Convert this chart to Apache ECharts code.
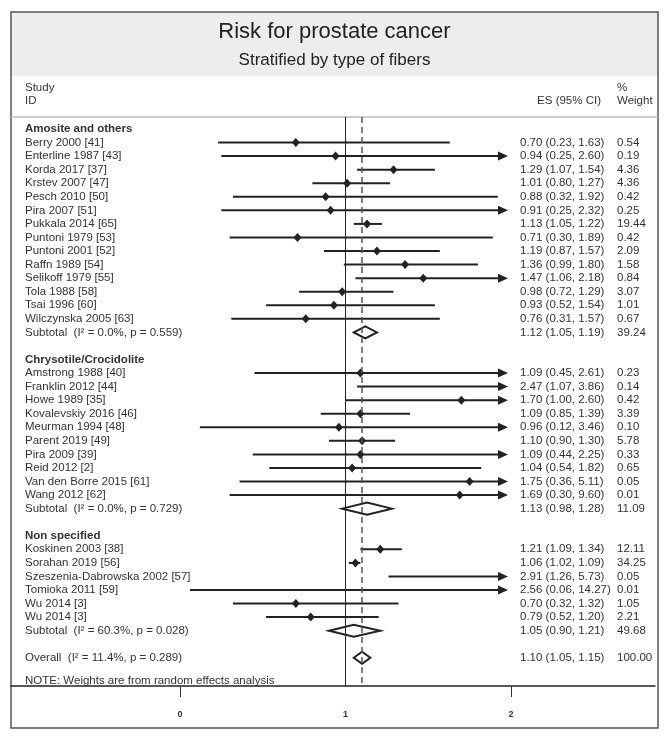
<!DOCTYPE html>
<html>
<head>
<meta charset="UTF-8">
<title>Risk for prostate cancer</title>
<style>
    body { margin: 0; background: #fff; }
    #main { width: 671px; height: 741px; }
</style>
<script src="https://cdn.jsdelivr.net/npm/echarts@6/dist/echarts.min.js"></script>
</head>
<body>
<div id="main"></div>
<script type="text/javascript">
    // groups of studies
    var groupNames = ['Amosite and others', 'Chrysotile/Crocidolite', 'Non specified'];

    var studyNames = [
        'Berry 2000 [41]', 'Enterline 1987 [43]', 'Korda 2017 [37]', 'Krstev 2007 [47]', 'Pesch 2010 [50]',
        'Pira 2007 [51]', 'Pukkala 2014 [65]', 'Puntoni 1979 [53]', 'Puntoni 2001 [52]', 'Raffn 1989 [54]',
        'Selikoff 1979 [55]', 'Tola 1988 [58]', 'Tsai 1996 [60]', 'Wilczynska 2005 [63]',
        'Amstrong 1988 [40]', 'Franklin 2012 [44]', 'Howe 1989 [35]', 'Kovalevskiy 2016 [46]', 'Meurman 1994 [48]',
        'Parent 2019 [49]', 'Pira 2009 [39]', 'Reid 2012 [2]', 'Van den Borre 2015 [61]', 'Wang 2012 [62]',
        'Koskinen 2003 [38]', 'Sorahan 2019 [56]', 'Szeszenia-Dabrowska 2002 [57]', 'Tomioka 2011 [59]',
        'Wu 2014 [3]', 'Wu 2014 [3]'
    ];
    var studyGroup = [0,0,0,0,0,0,0,0,0,0,0,0,0,0, 1,1,1,1,1,1,1,1,1,1, 2,2,2,2,2,2];
    var studyEs = [0.70, 0.94, 1.29, 1.01, 0.88, 0.91, 1.13, 0.71, 1.19, 1.36, 1.47, 0.98, 0.93, 0.76,
                   1.09, 2.47, 1.70, 1.09, 0.96, 1.10, 1.09, 1.04, 1.75, 1.69,
                   1.21, 1.06, 2.91, 2.56, 0.70, 0.79];
    var studyLo = [0.23, 0.25, 1.07, 0.80, 0.32, 0.25, 1.05, 0.30, 0.87, 0.99, 1.06, 0.72, 0.52, 0.31,
                   0.45, 1.07, 1.00, 0.85, 0.12, 0.90, 0.44, 0.54, 0.36, 0.30,
                   1.09, 1.02, 1.26, 0.06, 0.32, 0.52];
    var studyHi = [1.63, 2.60, 1.54, 1.27, 1.92, 2.32, 1.22, 1.89, 1.57, 1.80, 2.18, 1.29, 1.54, 1.57,
                   2.61, 3.86, 2.60, 1.39, 3.46, 1.30, 2.25, 1.82, 5.11, 9.60,
                   1.34, 1.09, 5.73, 14.27, 1.32, 1.20];
    var studyWeight = [0.54, 0.19, 4.36, 4.36, 0.42, 0.25, 19.44, 0.42, 2.09, 1.58, 0.84, 3.07, 1.01, 0.67,
                       0.23, 0.14, 0.42, 3.39, 0.10, 5.78, 0.33, 0.65, 0.05, 0.01,
                       12.11, 34.25, 0.05, 0.01, 1.05, 2.21];

    var subtotalLabels = ['Subtotal  (I\u00B2 = 0.0%, p = 0.559)', 'Subtotal  (I\u00B2 = 0.0%, p = 0.729)', 'Subtotal  (I\u00B2 = 60.3%, p = 0.028)'];
    var subtotalEs = [1.12, 1.13, 1.05];
    var subtotalLo = [1.05, 0.98, 0.90];
    var subtotalHi = [1.19, 1.28, 1.21];
    var subtotalWeight = [39.24, 11.09, 49.68];

    var overallLabel = 'Overall  (I\u00B2 = 11.4%, p = 0.289)';
    var overallEs = 1.10, overallLo = 1.05, overallHi = 1.15, overallWeight = 100.00;

    var xTicks = [0, 2];
    var xLabels = [0, 1, 2];
    var clipMax = 2;

    var textColor = '#333';
    var fontFamily = '"Liberation Sans", Arial, sans-serif';

    function ci(e, l, h) {
        return e.toFixed(2) + ' (' + l.toFixed(2) + ', ' + h.toFixed(2) + ')';
    }

    // build rows: header, studies, subtotal, blank for every group, then overall
    var rowText = [];   // [row, label, esText, weightText, bold]
    var studyData = [];
    var diamondData = [];
    var row = 0;
    for (var g = 0; g < groupNames.length; g++) {
        rowText.push([row, groupNames[g], '', '', true]);
        row++;
        for (var i = 0; i < studyNames.length; i++) {
            if (studyGroup[i] !== g) continue;
            rowText.push([row, studyNames[i], ci(studyEs[i], studyLo[i], studyHi[i]), studyWeight[i].toFixed(2), false]);
            studyData.push([studyLo[i], studyHi[i], studyEs[i], row]);
            row++;
        }
        rowText.push([row, subtotalLabels[g], ci(subtotalEs[g], subtotalLo[g], subtotalHi[g]), subtotalWeight[g].toFixed(2), false]);
        diamondData.push([subtotalLo[g], subtotalHi[g], subtotalEs[g], row]);
        row += 2;
    }
    rowText.push([row, overallLabel, ci(overallEs, overallLo, overallHi), overallWeight.toFixed(2), false]);
    diamondData.push([overallLo, overallHi, overallEs, row]);

    var textData = rowText.map(function (r) { return [0, r[0]]; });

    function renderStudy(params, api) {
        var lo = api.value(0), hi = api.value(1), es = api.value(2), r = api.value(3);
        var y = api.coord([0, r])[1];
        var x1 = api.coord([lo, r])[0];
        var clipped = hi > clipMax;
        var x2 = api.coord([Math.min(hi, clipMax), r])[0] - (clipped ? 3 : 0);
        var kids = [{
            type: 'line',
            shape: { x1: x1, y1: y, x2: clipped ? x2 - 6 : x2, y2: y },
            style: { stroke: '#222', lineWidth: 2 }
        }];
        if (clipped) {
            kids.push({
                type: 'polygon',
                shape: { points: [[x2, y], [x2 - 10, y - 4.5], [x2 - 10, y + 4.5]] },
                style: { fill: '#222' }
            });
        }
        if (es <= clipMax) {
            var xe = api.coord([es, r])[0];
            kids.push({
                type: 'polygon',
                shape: { points: [[xe, y - 4.5], [xe + 4, y], [xe, y + 4.5], [xe - 4, y]] },
                style: { fill: '#222' }
            });
        }
        return { type: 'group', children: kids };
    }

    function renderDiamond(params, api) {
        var lo = api.value(0), hi = api.value(1), es = api.value(2), r = api.value(3);
        var y = api.coord([0, r])[1];
        var xl = api.coord([lo, r])[0], xh = api.coord([hi, r])[0], xe = api.coord([es, r])[0];
        return {
            type: 'polygon',
            shape: { points: [[xl, y], [xe, y - 6], [xh, y], [xe, y + 6]] },
            style: { fill: '#fff', stroke: '#222', lineWidth: 2 }
        };
    }

    function renderText(params, api) {
        var r = rowText[params.dataIndex];
        var y = api.coord([0, r[0]])[1];
        var base = { fill: textColor, fontSize: 11.5, fontFamily: fontFamily, verticalAlign: 'middle' };
        return {
            type: 'group',
            children: [
                { type: 'text', x: 25, y: y, style: Object.assign({}, base, { text: r[1], fontWeight: r[4] ? 'bold' : 'normal' }) },
                { type: 'text', x: 520, y: y, style: Object.assign({}, base, { text: r[2] }) },
                { type: 'text', x: 617, y: y, style: Object.assign({}, base, { text: r[3] }) }
            ]
        };
    }

    var myChart = echarts.init(document.getElementById('main'));

    var option = {
        animation: false,
        backgroundColor: '#fff',
        grid: { left: 11, right: 16, top: 117, bottom: 55 },
        xAxis: {
            type: 'value',
            position: 'bottom',
            min: -1.021,
            max: 2.870,
            splitLine: { show: false },
            axisLine: { show: true, onZero: false, lineStyle: { color: '#222', width: 1.5 } },
            axisTick: { show: true, customValues: xTicks, length: 11, lineStyle: { color: '#333', width: 1 } },
            axisLabel: { customValues: xLabels, margin: 24, fontSize: 9, fontWeight: 'bold', color: '#333', fontFamily: fontFamily }
        },
        yAxis: { type: 'value', inverse: true, min: -0.885, max: 41.08, show: false },
        graphic: [
            { type: 'rect', shape: { x: 11, y: 12, width: 647, height: 64 }, style: { fill: '#ededed' }, z: -1 },
            { type: 'rect', shape: { x: 11, y: 12, width: 647, height: 716 }, style: { fill: 'none', stroke: '#555', lineWidth: 1.5 } },
            { type: 'line', shape: { x1: 11, y1: 117, x2: 658, y2: 117 }, style: { stroke: '#bbb', lineWidth: 1.5 } },
            { type: 'text', x: 334.5, y: 32, style: { text: 'Risk for prostate cancer', fill: '#222', fontSize: 22, fontFamily: fontFamily, align: 'center', verticalAlign: 'middle' } },
            { type: 'text', x: 334.5, y: 60, style: { text: 'Stratified by type of fibers', fill: '#222', fontSize: 17, fontFamily: fontFamily, align: 'center', verticalAlign: 'middle' } },
            { type: 'text', x: 25, y: 88, style: { text: 'Study', fill: textColor, fontSize: 11.5, fontFamily: fontFamily, verticalAlign: 'middle' } },
            { type: 'text', x: 25, y: 101, style: { text: 'ID', fill: textColor, fontSize: 11.5, fontFamily: fontFamily, verticalAlign: 'middle' } },
            { type: 'text', x: 601, y: 101, style: { text: 'ES (95% CI)', fill: textColor, fontSize: 11.5, fontFamily: fontFamily, align: 'right', verticalAlign: 'middle' } },
            { type: 'text', x: 617, y: 88, style: { text: '%', fill: textColor, fontSize: 11.5, fontFamily: fontFamily, verticalAlign: 'middle' } },
            { type: 'text', x: 617, y: 101, style: { text: 'Weight', fill: textColor, fontSize: 11.5, fontFamily: fontFamily, verticalAlign: 'middle' } },
            { type: 'text', x: 25, y: 681, style: { text: 'NOTE: Weights are from random effects analysis', fill: textColor, fontSize: 11.5, fontFamily: fontFamily, verticalAlign: 'middle' } }
        ],
        series: [
            {
                type: 'custom',
                name: 'studies',
                renderItem: renderStudy,
                data: studyData,
                clip: false,
                markLine: {
                    silent: true,
                    symbol: ['none', 'none'],
                    label: { show: false },
                    data: [
                        { xAxis: 1, lineStyle: { type: 'solid', color: '#222', width: 1 } },
                        { xAxis: overallEs, lineStyle: { type: [6, 4], color: '#555', width: 1.5 } }
                    ]
                }
            },
            { type: 'custom', name: 'pooled', renderItem: renderDiamond, data: diamondData, clip: false, z: 3 },
            { type: 'custom', name: 'text', renderItem: renderText, data: textData, clip: false }
        ]
    };

    myChart.setOption(option);
</script>
</body>
</html>
